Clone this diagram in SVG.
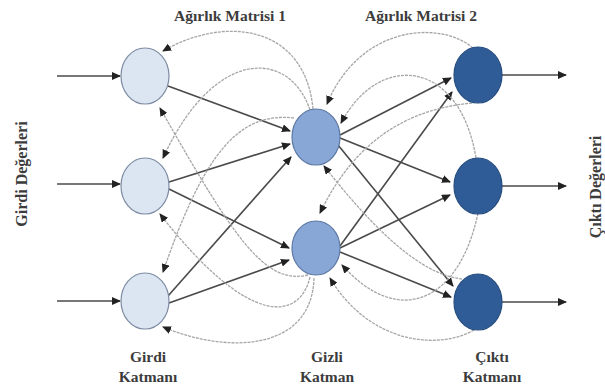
<svg xmlns="http://www.w3.org/2000/svg" width="605" height="387" viewBox="0 0 605 387">
<style>
.in{fill:#dce6f2;stroke:#7d8ca3;stroke-width:1.2}
.hid{fill:#88a7d6;stroke:#5c78a3;stroke-width:1.2}
.out{fill:#2f5c96;stroke:#264d80;stroke-width:1.2}
.fw{stroke:#4a4a4a;stroke-width:1.6;fill:none;marker-end:url(#ah)}
.fb{stroke:#a6a6a6;stroke-width:1.3;fill:none;stroke-dasharray:3 1;marker-end:url(#ah)}
.io{stroke:#4a4a4a;stroke-width:1.6;fill:none;marker-end:url(#ah)}
.t{font-family:"Liberation Serif","Times New Roman",serif;font-weight:bold;font-size:15.5px;fill:#3c3c3c;text-anchor:middle}
.v{font-family:"Liberation Serif","Times New Roman",serif;font-weight:bold;font-size:16px;fill:#3c3c3c;text-anchor:middle}
</style>
<defs>
<marker id="ah" markerUnits="userSpaceOnUse" markerWidth="9" markerHeight="8" refX="8" refY="4" orient="auto">
<path d="M0,0 L9,4 L0,8 z" fill="#222"/>
</marker>
</defs>
<rect width="605" height="387" fill="#fff"/>
<g id="connectors">
<line class="io" x1="57" y1="76" x2="120" y2="76"/>
<line class="io" x1="57" y1="184" x2="120" y2="184"/>
<line class="io" x1="57" y1="301" x2="120" y2="301"/>
<line class="io" x1="502" y1="75" x2="566" y2="75"/>
<line class="io" x1="502" y1="186" x2="566" y2="186"/>
<line class="io" x1="502" y1="302" x2="566" y2="302"/>
<line class="fw" x1="168" y1="86" x2="290" y2="131"/>
<line class="fw" x1="169" y1="182" x2="290" y2="144"/>
<line class="fw" x1="169" y1="189" x2="289" y2="248"/>
<line class="fw" x1="168" y1="296" x2="291" y2="157"/>
<line class="fw" x1="169" y1="303" x2="289" y2="260"/>
<line class="fw" x1="340" y1="135" x2="451" y2="78"/>
<line class="fw" x1="340" y1="246" x2="452" y2="92"/>
<line class="fw" x1="340" y1="138" x2="450" y2="182"/>
<line class="fw" x1="340" y1="248" x2="450" y2="195"/>
<line class="fw" x1="338" y1="145" x2="453" y2="286"/>
<line class="fw" x1="340" y1="252" x2="451" y2="297"/>
<path class="fb" d="M313,109 C305,25 225,15 163,51"/>
<path class="fb" d="M310,110 C290,50 215,45 163,158"/>
<path class="fb" d="M294,118 C240,112 205,150 163,272"/>
<path class="fb" d="M308,275 C265,285 235,240 160,108"/>
<path class="fb" d="M310,277 C300,320 250,330 160,214"/>
<path class="fb" d="M314,278 C312,350 230,355 163,327"/>
<path class="fb" d="M473,48 C440,20 360,25 327,104"/>
<path class="fb" d="M476,158 C460,60 380,50 341,123"/>
<path class="fb" d="M472,103 C420,108 360,130 320,213"/>
<path class="fb" d="M462,279 C430,275 390,250 324,166"/>
<path class="fb" d="M478,213 C460,300 400,330 342,265"/>
<path class="fb" d="M474,330 C440,350 370,345 330,278"/>
</g>
<g id="in1"><ellipse class="in" cx="145" cy="76" rx="24" ry="28"/></g>
<g id="in2"><ellipse class="in" cx="145" cy="186" rx="24" ry="28"/></g>
<g id="in3"><ellipse class="in" cx="145" cy="301" rx="24" ry="28"/></g>
<g id="h1"><ellipse class="hid" cx="316" cy="137" rx="24" ry="28"/></g>
<g id="h2"><ellipse class="hid" cx="316" cy="248" rx="24" ry="27"/></g>
<g id="out1"><ellipse class="out" cx="478" cy="75" rx="24" ry="28"/></g>
<g id="out2"><ellipse class="out" cx="478" cy="186" rx="24" ry="28"/></g>
<g id="out3"><ellipse class="out" cx="478" cy="302" rx="24" ry="28"/></g>
<g id="labels">
<text class="t" x="230" y="21">Ağırlık Matrisi 1</text>
<text class="t" x="421" y="21">Ağırlık Matrisi 2</text>
<text class="t" x="148" y="362">Girdi</text>
<text class="t" x="148" y="382">Katmanı</text>
<text class="t" x="327" y="362">Gizli</text>
<text class="t" x="327" y="382">Katman</text>
<text class="t" x="492" y="362">Çıktı</text>
<text class="t" x="492" y="382">Katmanı</text>
<text class="v" transform="translate(27,174) rotate(-90)">Girdi Değerleri</text>
<text class="v" transform="translate(601,187) rotate(-90)">Çıktı Değerleri</text>
</g>
</svg>
